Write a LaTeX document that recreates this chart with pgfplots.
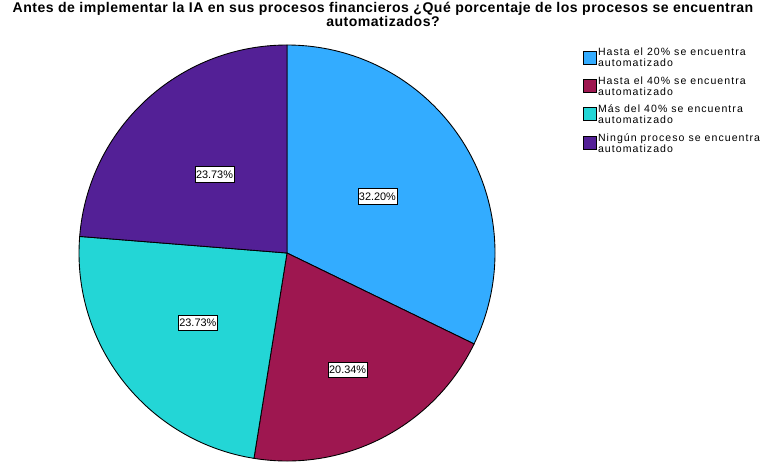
\documentclass[border=0pt]{standalone}
\usepackage{fontspec}
\setmainfont{Liberation Sans}
\newfontfamily\spaced[LetterSpace=3.5]{Liberation Sans}
\newfontfamily\legspaced[LetterSpace=10]{Liberation Sans}
\usepackage{pgfplots}
\pgfplotsset{compat=1.18}
\usepackage{pgfplotstable}

\definecolor{sliceA}{RGB}{51,172,255}
\definecolor{sliceB}{RGB}{158,23,80}
\definecolor{sliceC}{RGB}{35,214,214}
\definecolor{sliceD}{RGB}{83,32,150}

% share in percent, label distance as fraction of the radius
\pgfplotstableread{
val lab
32.20 0.513
20.34 0.632
23.73 0.545
23.73 0.514
}\piedata

\def\R{4.16}
\pgfplotstablegetelem{0}{val}\of\piedata \let\vA\pgfplotsretval
\pgfplotstablegetelem{1}{val}\of\piedata \let\vB\pgfplotsretval
\pgfplotstablegetelem{2}{val}\of\piedata \let\vC\pgfplotsretval
\pgfplotstablegetelem{3}{val}\of\piedata \let\vD\pgfplotsretval
\pgfplotstablegetelem{0}{lab}\of\piedata \let\fA\pgfplotsretval
\pgfplotstablegetelem{1}{lab}\of\piedata \let\fB\pgfplotsretval
\pgfplotstablegetelem{2}{lab}\of\piedata \let\fC\pgfplotsretval
\pgfplotstablegetelem{3}{lab}\of\piedata \let\fD\pgfplotsretval

% start at 12 o'clock, go clockwise
\pgfmathsetmacro\aA{90}
\pgfmathsetmacro\aB{\aA-3.6*\vA}
\pgfmathsetmacro\aC{\aB-3.6*\vB}
\pgfmathsetmacro\aD{\aC-3.6*\vC}
\pgfmathsetmacro\aE{\aD-3.6*\vD}

\pgfmathsetmacro\xA{\R*\fA*cos((\aA+\aB)/2)}\pgfmathsetmacro\yA{\R*\fA*sin((\aA+\aB)/2)}
\pgfmathsetmacro\xB{\R*\fB*cos((\aB+\aC)/2)}\pgfmathsetmacro\yB{\R*\fB*sin((\aB+\aC)/2)}
\pgfmathsetmacro\xC{\R*\fC*cos((\aC+\aD)/2)}\pgfmathsetmacro\yC{\R*\fC*sin((\aC+\aD)/2)}
\pgfmathsetmacro\xD{\R*\fD*cos((\aD+\aE)/2)}\pgfmathsetmacro\yD{\R*\fD*sin((\aD+\aE)/2)}

\newcommand\slice[3]{%
  \fill[#3, draw=black, line width=0.5pt] (axis cs:0,0)
    -- (axis cs:{\R*cos(#1)},{\R*sin(#1)})
    arc[start angle=#1, end angle=#2, radius=\R] -- cycle;}
\newcommand\pielabel[3]{%
  \node[draw=black, fill=white, line width=0.35pt, inner xsep=0.6pt, inner ysep=2.2pt,
        font=\fontsize{6.2}{6.5}\selectfont] at (axis cs:#1,#2)
    {\pgfmathprintnumber[fixed, fixed zerofill, precision=2,
       /pgf/number format/assume math mode=true]{#3}\%};}

\begin{document}
\begin{tikzpicture}
\begin{axis}[
    x=1cm, y=1cm,
    xmin=-5.74, xmax=9.46, ymin=-4.16, ymax=5.06,
    hide axis, clip=false,
    title={Antes de implementar la IA en sus procesos financieros ¿Qué porcentaje de los procesos se encuentran\\automatizados?},
    title style={at={(axis cs:1.92,4.32)}, anchor=base, align=center,
        font=\spaced\bfseries\fontsize{8}{8.1}\selectfont},
    legend style={at={(axis cs:5.92,4.10)}, anchor=north west,
        draw=none, fill=none, inner sep=0pt, row sep=4pt, column sep=0.03cm,
        font=\legspaced\fontsize{6}{6.26}\selectfont,
        cells={anchor=west, align=left}, nodes={inner sep=0pt}},
    legend image code/.code={\draw[#1, draw=black, line width=0.4pt]
        (0cm,-0.1cm) rectangle (0.25cm,0.16cm);},
]
% picture frame, same size as the reference
\coordinate (frameSW) at (axis cs:-5.74,-4.16);
\coordinate (frameNE) at (axis cs:9.46,5.06);
\slice{\aA}{\aB}{sliceA}
\slice{\aB}{\aC}{sliceB}
\slice{\aC}{\aD}{sliceC}
\slice{\aD}{\aE}{sliceD}
\pielabel{\xA}{\yA}{\vA}
\pielabel{\xB}{\yB}{\vB}
\pielabel{\xC}{\yC}{\vC}
\pielabel{\xD}{\yD}{\vD}
\addlegendimage{fill=sliceA}
\addlegendentry{Hasta el 20\% se encuentra\\automatizado}
\addlegendimage{fill=sliceB}
\addlegendentry{Hasta el 40\% se encuentra\\automatizado}
\addlegendimage{fill=sliceC}
\addlegendentry{Más del 40\% se encuentra\\automatizado}
\addlegendimage{fill=sliceD}
\addlegendentry{Ningún proceso se encuentra\\automatizado}
\end{axis}
\pgfresetboundingbox
\useasboundingbox (frameSW) rectangle (frameNE);
\end{tikzpicture}
\end{document}
